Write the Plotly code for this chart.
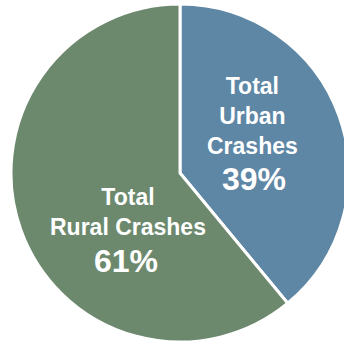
import plotly.graph_objects as go

labels = ["Total<br>Urban<br>Crashes", "Total<br>Rural Crashes"]
values = [39, 61]
colors = ["#5E86A5", "#6C896E"]

W, H = 350, 343   # figure is a little wider than the window; the right edge of the pie is cut off

fig = go.Figure(go.Pie(
    labels=labels,
    values=values,
    sort=False,
    direction="clockwise",
    rotation=0,
    marker=dict(colors=colors, line=dict(color="white", width=3)),
    textinfo="none",
    hoverinfo="none",
    showlegend=False,
    domain=dict(x=[11 / W, 349 / W], y=[1 - 342 / H, 1 - 4 / H]),
))

# text block centres, in pixels
label_pos = [(252.5, 116), (127.5, 212)]
pct_pos = [(253.5, 179), (126, 260.5)]
for lab, val, (lx, ly), (px, py) in zip(labels, values, label_pos, pct_pos):
    bold = "<b>" + lab.replace("<br>", "</b><br><b>") + "</b>"
    fig.add_annotation(
        x=lx / W, y=1 - ly / H, xref="paper", yref="paper",
        text=bold, showarrow=False, align="center",
        font=dict(family="Liberation Sans", size=23, color="white"),
        xanchor="center", yanchor="middle",
    )
    fig.add_annotation(
        x=px / W, y=1 - py / H, xref="paper", yref="paper",
        text=f"<b>{val}%</b>", showarrow=False,
        font=dict(family="Liberation Sans", size=32, color="white"),
        xanchor="center", yanchor="middle",
    )

fig.update_layout(
    width=W, height=H,
    margin=dict(l=0, r=0, t=0, b=0),
    paper_bgcolor="white",
    plot_bgcolor="white",
)

fig.write_html(
    "out.html",
    config={"displayModeBar": False, "staticPlot": True},
    post_script="document.body.style.margin='0';document.body.style.overflow='hidden';",
)
